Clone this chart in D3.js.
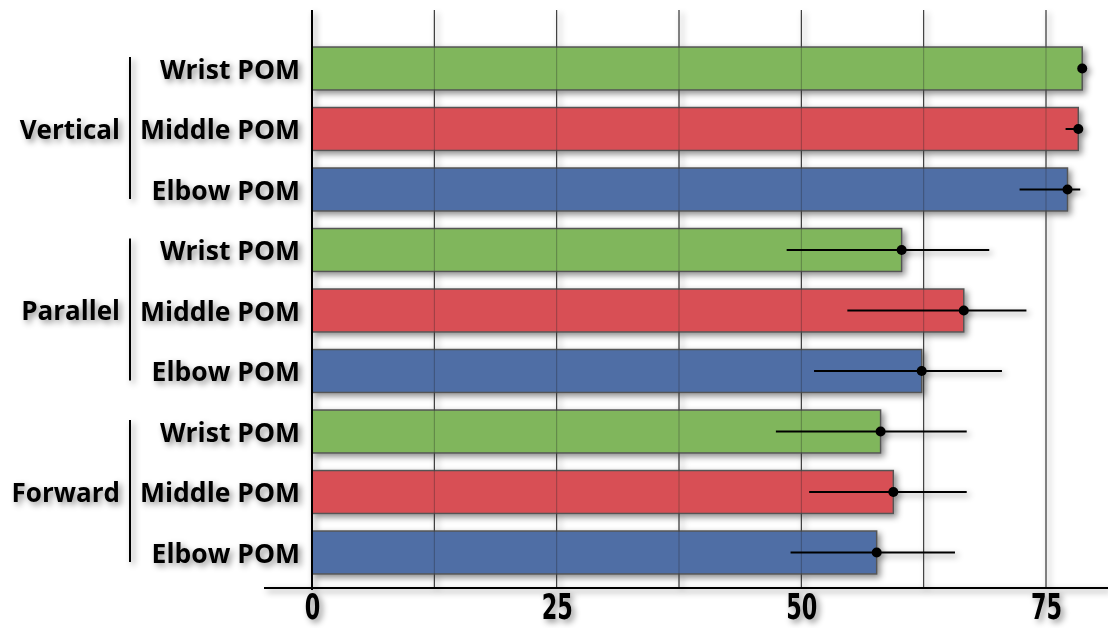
<!DOCTYPE html>
<html><head><meta charset="utf-8">
<script src="https://cdn.jsdelivr.net/npm/d3@7"></script>
<style>
html,body{margin:0;padding:0;background:#fff;}
svg{display:block;}
</style></head>
<body>
<svg id="chart" width="1108" height="628"></svg>
<script>
const groups = ["Vertical", "Parallel", "Forward"];
const subLabels = ["Wrist POM", "Middle POM", "Elbow POM"];
const subColors = ["#80b65c", "#d85055", "#4f6ea5"];
// values per row (groups x sub, top to bottom)
const means = [78.7, 78.3, 77.2, 60.25, 66.6, 62.3, 58.1, 59.4, 57.7];
const errLow = [78.7, 77.0, 72.3, 48.5, 54.7, 51.3, 47.4, 50.8, 48.9];
const errHigh = [78.7, 78.6, 78.5, 69.2, 73.0, 70.5, 66.9, 66.9, 65.7];
const xTicks = [0, 25, 50, 75];
const xGrid = [0, 12.5, 25, 37.5, 50, 62.5, 75];

const rows = [];
groups.forEach((g, gi) => subLabels.forEach((s, si) => {
  const i = gi * 3 + si;
  rows.push({key: g + "|" + s, group: g, sub: s, color: subColors[si], mean: means[i], lo: errLow[i], hi: errHigh[i]});
}));

const svg = d3.select("#chart");
const defs = svg.append("defs");
const f = defs.append("filter").attr("id", "sh").attr("x", "-20%").attr("y", "-40%").attr("width", "140%").attr("height", "180%");
f.append("feDropShadow").attr("dx", 3).attr("dy", 3).attr("stdDeviation", 3).attr("flood-color", "#000").attr("flood-opacity", 0.45);

const x = d3.scaleLinear().domain([0, 75]).range([312, 1046]);
const y = d3.scaleBand().domain(rows.map(r => r.key)).range([38.25, 582.75]).paddingInner(0.29).paddingOuter(0.145);

const g = svg.append("g").attr("filter", "url(#sh)");

// grid lines
g.append("g").selectAll("line").data(xGrid.slice(1)).join("line")
  .attr("x1", d => x(d)).attr("x2", d => x(d))
  .attr("y1", 10).attr("y2", 588)
  .attr("stroke", "#333").attr("stroke-width", 1);

// bars
g.append("g").selectAll("rect").data(rows).join("rect")
  .attr("x", x(0)).attr("y", d => y(d.key))
  .attr("width", d => x(d.mean) - x(0)).attr("height", y.bandwidth())
  .attr("fill", d => d.color).attr("stroke", "#555").attr("stroke-width", 1.5);

// grid lines over bars (faint)
g.append("g").selectAll("line").data(xGrid.slice(1)).join("line")
  .attr("x1", d => x(d)).attr("x2", d => x(d))
  .attr("y1", 10).attr("y2", 588)
  .attr("stroke", "#222").attr("stroke-opacity", 0.35).attr("stroke-width", 1);

// error bars
const eb = g.append("g");
eb.selectAll("line").data(rows).join("line")
  .attr("x1", d => x(d.lo)).attr("x2", d => x(d.hi))
  .attr("y1", d => y(d.key) + y.bandwidth() / 2).attr("y2", d => y(d.key) + y.bandwidth() / 2)
  .attr("stroke", "#000").attr("stroke-width", 2);
eb.selectAll("circle").data(rows).join("circle")
  .attr("cx", d => x(d.mean)).attr("cy", d => y(d.key) + y.bandwidth() / 2)
  .attr("r", 5).attr("fill", "#000");

// axes
const xAxis = d3.axisBottom(x).tickValues(xTicks).tickSize(0).tickPadding(8).tickFormat(d3.format("d"));
const ax = g.append("g").attr("transform", "translate(0,588)").call(xAxis);
ax.select(".domain").remove();
ax.append("line").attr("x1", 264).attr("x2", 1108).attr("y1", 0).attr("y2", 0).attr("stroke", "#000").attr("stroke-width", 2);
ax.selectAll(".tick text").attr("fill", "#000")
  .attr("font-family", "'DejaVu Sans Condensed', 'DejaVu Sans', sans-serif")
  .attr("font-weight", "bold").attr("font-size", 36).attr("y", 0).attr("dy", 0)
  .attr("transform", "translate(0,31) scale(0.69,1)");

g.append("line").attr("x1", 312).attr("x2", 312).attr("y1", 10).attr("y2", 590).attr("stroke", "#000").attr("stroke-width", 2);

// category labels
const yAxis = d3.axisLeft(y).tickSize(0).tickPadding(12).tickFormat(k => k.split("|")[1]);
const ay = g.append("g").attr("transform", "translate(312,0)").call(yAxis);
ay.select(".domain").remove();
ay.selectAll("text").attr("fill", "#000")
  .attr("font-family", "'Open Sans', sans-serif").attr("font-weight", "bold").attr("font-size", 26.5)
  .attr("dy", "0.38em");

// group labels and brackets
groups.forEach((gr) => {
  const first = gr + "|" + subLabels[0], mid = gr + "|" + subLabels[1], last = gr + "|" + subLabels[2];
  const y0 = y(first) + 10, y1 = y(last) + y.bandwidth() - 12;
  g.append("line").attr("x1", 130).attr("x2", 130).attr("y1", y0).attr("y2", y1)
    .attr("stroke", "#000").attr("stroke-width", 2);
  g.append("text").attr("x", 120).attr("y", y(mid) + y.bandwidth() / 2)
    .attr("dy", "0.38em").attr("text-anchor", "end")
    .attr("font-family", "'Open Sans', sans-serif").attr("font-weight", "bold").attr("font-size", 26)
    .text(gr);
});
</script>
</body></html>
